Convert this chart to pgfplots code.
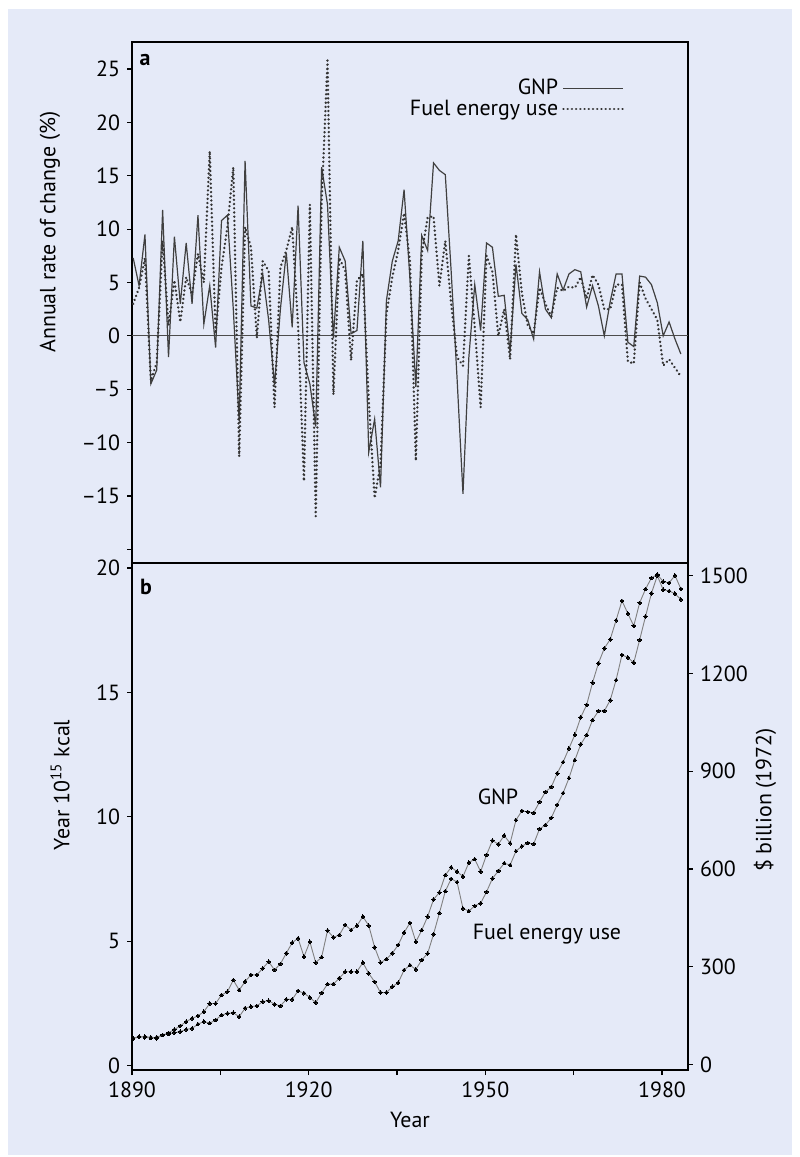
\documentclass[border=0pt]{standalone}
\usepackage{fontspec}
\setmainfont{PT Sans}
\usepackage{pgfplots}
\usepackage{pgfplotstable}
\pgfplotsset{compat=1.18}
\definecolor{bgblue}{RGB}{229,234,248}
\newcommand{\lf}{\fontsize{11}{13}\selectfont}

\pgfplotstableread{
year gnp fuel
1890 7.3 3.0
1891 4.7 4.5
1892 9.5 7.3
1893 -4.5 -4.2
1894 -3.2 -2.5
1895 11.8 8.9
1896 -2.0 1.0
1897 9.3 5.2
1898 3.0 1.3
1899 8.7 5.5
1900 3.0 3.9
1901 11.3 7.7
1902 1.1 5.0
1903 4.7 17.3
1904 -1.1 0.2
1905 10.8 6.4
1906 11.3 10.2
1907 2.5 15.8
1908 -8.0 -11.3
1909 16.4 10.2
1910 2.8 8.3
1911 2.6 -0.2
1912 5.8 7.0
1913 1.5 6.1
1914 -4.6 -6.7
1915 2.5 6.4
1916 7.8 8.0
1917 0.8 10.2
1918 12.2 1.0
1919 -2.5 -13.6
1920 -4.5 12.3
1921 -8.5 -16.9
1922 15.8 12.5
1923 12.3 25.8
1924 -0.2 -5.5
1925 8.3 7.3
1926 7.0 6.1
1927 0.2 -2.3
1928 0.5 5.2
1929 8.9 5.8
1930 -10.9 -6.0
1931 -7.8 -15.2
1932 -14.2 -12.0
1933 3.3 2.0
1934 7.0 5.5
1935 8.9 8.0
1936 13.7 11.5
1937 5.3 7.0
1938 -4.8 -11.7
1939 9.4 7.7
1940 8.0 11.1
1941 16.2 11.2
1942 15.5 4.7
1943 15.1 8.9
1944 6.0 3.0
1945 -4.0 -2.0
1946 -14.8 -2.8
1947 -2.0 7.5
1948 4.8 0.8
1949 0.5 -6.7
1950 8.7 7.5
1951 8.3 6.0
1952 3.7 0.0
1953 3.8 2.5
1954 -1.5 -2.2
1955 6.7 9.5
1956 2.1 4.0
1957 1.5 1.0
1958 -0.3 0.2
1959 6.0 4.5
1960 2.5 3.0
1961 1.7 1.8
1962 5.8 4.5
1963 4.3 4.2
1964 5.8 4.6
1965 6.2 4.5
1966 6.0 5.5
1967 2.7 3.5
1968 4.7 5.7
1969 2.8 4.8
1970 0.0 2.5
1971 3.2 2.5
1972 5.8 4.8
1973 5.8 4.8
1974 -0.6 -2.4
1975 -1.0 -2.6
1976 5.6 5.0
1977 5.5 3.5
1978 4.8 2.5
1979 3.1 1.5
1980 0.0 -2.8
1981 1.3 -2.2
1982 -0.3 -3.0
1983 -1.7 -3.8
}\ratetable

\pgfplotstableread{
year energy
1890 1.10
1891 1.15
1892 1.17
1893 1.14
1894 1.10
1895 1.23
1896 1.32
1897 1.45
1898 1.60
1899 1.77
1900 1.90
1901 2.00
1902 2.17
1903 2.50
1904 2.50
1905 2.84
1906 2.97
1907 3.44
1908 3.04
1909 3.38
1910 3.65
1911 3.65
1912 3.91
1913 4.18
1914 3.85
1915 4.09
1916 4.52
1917 4.94
1918 5.12
1919 4.38
1920 4.98
1921 4.14
1922 4.36
1923 5.43
1924 5.16
1925 5.25
1926 5.66
1927 5.45
1928 5.63
1929 5.99
1930 5.63
1931 4.76
1932 4.14
1933 4.28
1934 4.52
1935 4.85
1936 5.35
1937 5.74
1938 4.98
1939 5.45
1940 5.99
1941 6.68
1942 6.96
1943 7.66
1944 7.97
1945 7.80
1946 7.60
1947 8.16
1948 8.30
1949 7.80
1950 8.47
1951 9.05
1952 8.90
1953 9.25
1954 8.94
1955 9.87
1956 10.24
1957 10.20
1958 10.16
1959 10.60
1960 11.00
1961 11.20
1962 11.75
1963 12.20
1964 12.75
1965 13.30
1966 14.00
1967 14.50
1968 15.39
1969 16.17
1970 16.77
1971 17.13
1972 17.90
1973 18.68
1974 18.17
1975 17.67
1976 18.60
1977 19.15
1978 19.60
1979 19.74
1980 19.45
1981 19.40
1982 19.70
1983 19.16
}\energytable

\pgfplotstableread{
year gnp
1890 81
1891 86
1892 84
1893 81
1894 84
1895 91
1896 94
1897 98
1898 101
1899 108
1900 111
1901 124
1902 132
1903 127
1904 137
1905 152
1906 157
1907 159
1908 147
1909 173
1910 178
1911 180
1912 193
1913 196
1914 185
1915 180
1916 200
1917 200
1918 226
1919 219
1920 206
1921 190
1922 220
1923 247
1924 247
1925 265
1926 285
1927 285
1928 285
1929 313
1930 280
1931 254
1932 221
1933 221
1934 239
1935 251
1936 290
1937 305
1938 292
1939 321
1940 341
1941 400
1942 465
1943 532
1944 570
1945 560
1946 479
1947 471
1948 487
1949 495
1950 530
1951 571
1952 594
1953 618
1954 612
1955 655
1956 670
1957 680
1958 677
1959 723
1960 735
1961 757
1962 797
1963 833
1964 879
1965 934
1966 983
1967 1011
1968 1057
1969 1085
1970 1085
1971 1118
1972 1180
1973 1257
1974 1249
1975 1233
1976 1303
1977 1375
1978 1446
1979 1500
1980 1457
1981 1453
1982 1445
1983 1427
}\gnptable

\begin{document}
\begin{tikzpicture}
\fill[white] (0,0) rectangle (400bp,578.5bp);
\fill[bgblue] (4bp,1bp) rectangle (396bp,574bp);

% ---------- panel a ----------
\begin{axis}[
  at={(66bp,297bp)}, anchor=south west,
  scale only axis, width=278bp, height=260.5bp,
  xmin=1890, xmax=1984.41, ymin=-21.28, ymax=27.53,
  axis line style={line width=1bp},
  xtick=\empty,
  ytick={-20,-15,-10,-5,0,5,10,15,20,25},
  yticklabels={,–15,–10,–5,0,5,10,15,20,25},
  ytick pos=left,
  tick align=outside, major tick length=2.5bp,
  every tick/.style={line width=0.6bp, black},
  tick label style={font=\lf},
  extra y ticks={0}, extra y tick labels={},
  extra y tick style={grid=major, major grid style={line width=0.5bp, black!70}},
  legend style={at={(0.887,0.937)}, anchor=north east, draw=none, fill=none,
     font=\lf, row sep=-3bp, inner sep=0pt, cells={anchor=east}},
  legend plot pos=right,
  legend image code/.code={\draw[#1] (0bp,0bp) -- (30bp,0bp);},
]
\addplot[black!75, line width=0.6bp] table[x expr=\thisrow{year}+0.2, y=gnp] {\ratetable};
\addlegendentry{GNP}
\addplot[black!80, line width=1.3bp, line cap=round, dash pattern=on 0.01bp off 2.1bp] table[x expr=\thisrow{year}+0.2, y=fuel] {\ratetable};
\addlegendentry{Fuel energy use}
\end{axis}

% ---------- panel b, left axis ----------
\begin{axis}[
  at={(66bp,43.5bp)}, anchor=south west,
  scale only axis, width=278bp, height=253.5bp,
  xmin=1890, xmax=1984.41, ymin=-0.173, ymax=20.2,
  axis line style={line width=1bp},
  xtick={1890,1905,1920,1935,1950,1965,1980},
  xticklabels={1890,,1920,,1950,,1980},
  ytick={0,5,10,15,20},
  yticklabels={0,5,10,15,20},
  ytick pos=left, xtick pos=bottom,
  tick align=outside, major tick length=2.5bp,
  every tick/.style={line width=0.6bp, black},
  tick label style={font=\lf},
]
\addplot[black!50, line width=0.45bp, mark=*, mark size=0.9bp, mark options={fill=black, draw=black, line width=0pt}] table[x expr=\thisrow{year}+0.2, y=energy] {\energytable};
\end{axis}

% ---------- panel b, right axis ----------
\begin{axis}[
  at={(66bp,43.5bp)}, anchor=south west,
  scale only axis, width=278bp, height=253.5bp,
  xmin=1890, xmax=1984.41, ymin=-16.6, ymax=1539,
  axis x line=none, axis y line*=right,
  axis line style={line width=1bp},
  ytick={0,300,600,900,1200,1500},
  yticklabels={0,300,600,900,1200,1500},
  tick align=outside, major tick length=2.5bp,
  every tick/.style={line width=0.6bp, black},
  tick label style={font=\lf},
]
\addplot[black!50, line width=0.45bp, mark=*, mark size=0.9bp, mark options={fill=black, draw=black, line width=0pt}] table[x expr=\thisrow{year}+0.2, y=gnp] {\gnptable};
\end{axis}

% ---------- texts ----------
\node[font=\lf\bfseries] at (72.5bp,548.5bp) {a};
\node[font=\lf\bfseries] at (73bp,285bp) {b};
\node[font=\lf] at (249bp,180bp) {GNP};
\node[font=\lf] at (273.5bp,111.5bp) {Fuel energy use};
\node[font=\lf, rotate=90] at (25bp,462.5bp) {Annual rate of change (\%)};
\node[font=\lf, rotate=90] at (30bp,186bp) {Year 10\textsuperscript{15} kcal};
\node[font=\lf, rotate=90] at (382.5bp,178.5bp) {\$ billion (1972)};
\node[font=\lf] at (205bp,18.5bp) {Year};
\end{tikzpicture}
\end{document}
